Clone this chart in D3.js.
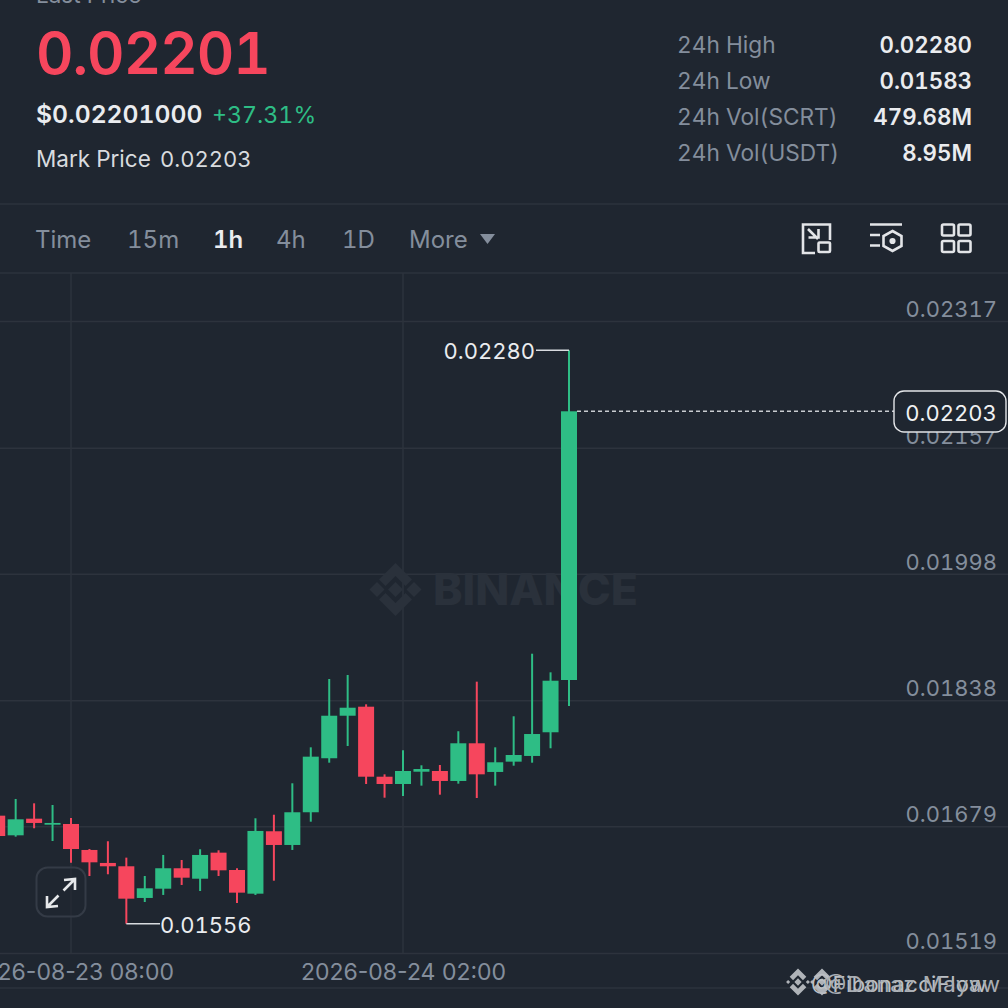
<!DOCTYPE html>
<html><head><meta charset="utf-8">
<script src="https://cdn.jsdelivr.net/npm/d3@7/dist/d3.min.js"></script>
<style>
html,body{margin:0;padding:0;background:#1f2630;overflow:hidden}
svg{display:block}
text{font-family:Inter,Lato,sans-serif;font-variant-numeric:tabular-nums}
</style></head><body>
<svg id="c" width="1008" height="1008"></svg>
<script>
const times=["2026-08-23T04:00Z","2026-08-23T05:00Z","2026-08-23T06:00Z","2026-08-23T07:00Z","2026-08-23T08:00Z","2026-08-23T09:00Z","2026-08-23T10:00Z","2026-08-23T11:00Z","2026-08-23T12:00Z","2026-08-23T13:00Z","2026-08-23T14:00Z","2026-08-23T15:00Z","2026-08-23T16:00Z","2026-08-23T17:00Z","2026-08-23T18:00Z","2026-08-23T19:00Z","2026-08-23T20:00Z","2026-08-23T21:00Z","2026-08-23T22:00Z","2026-08-23T23:00Z","2026-08-24T00:00Z","2026-08-24T01:00Z","2026-08-24T02:00Z","2026-08-24T03:00Z","2026-08-24T04:00Z","2026-08-24T05:00Z","2026-08-24T06:00Z","2026-08-24T07:00Z","2026-08-24T08:00Z","2026-08-24T09:00Z","2026-08-24T10:00Z","2026-08-24T11:00Z"];
const opens=[.016924,.016676,.016886,.01681,.016819,.016491,.016327,.016285,.015885,.016002,.01626,.016128,.016457,.016238,.015939,.016727,.016554,.016967,.017649,.018186,.0183,.017416,.017324,.017479,.017488,.017362,.017838,.017476,.017606,.017678,.017977,.018637];
const closes=[.016667,.016878,.016832,.016832,.016503,.016335,.016285,.015876,.016007,.01626,.016141,.016428,.016234,.015952,.016731,.016554,.016967,.017669,.018186,.018287,.017416,.017324,.017488,.017513,.017362,.017838,.017446,.017598,.01769,.017955,.018628,.02203];
const highs=[.016924,.017135,.01708,.017059,.016895,.016503,.016601,.016394,.016162,.016428,.016364,.0165,.016487,.01626,.016891,.016936,.017333,.017787,.01865,.0187,.01833,.017446,.01775,.01756,.017564,.01799,.018616,.017787,.018179,.018969,.018734,.0228];
const lows=[.016667,.016659,.016765,.016604,.01633,.016162,.016184,.01556,.015834,.015923,.016049,.015973,.016162,.015822,.015923,.016103,.016491,.016848,.017593,.017804,.017324,.017151,.017173,.017303,.017189,.017328,.017147,.017303,.017555,.017593,.017775,.018309];
const priceTicks=[.02317,.02157,.01998,.01838,.01679,.01519];
const timeTicks=["2026-08-23T08:00Z","2026-08-24T02:00Z"];
const tabs=["Time","15m","1h","4h","1D","More"];
const statLabels=["24h High","24h Low","24h Vol(SCRT)","24h Vol(USDT)"];
const statValues=["0.02280","0.01583","479.68M","8.95M"];
const lastPrice=.02201, markPrice=.02203, hiPrice=.0228, loPrice=.01556;

const GREEN="#2ebd85",RED="#f6465d",BG="#1f2630",GRID="#2d333d",MUTED="#848e9c",LIGHT="#eaecef";
const svg=d3.select("#c");
const x=d3.scaleUtc().domain([new Date("2026-08-23T08:00Z"),new Date("2026-08-24T02:00Z")]).range([71,403]);
const y=d3.scaleLinear().domain([.01519,.02317]).range([953,321]);
const fmt5=d3.format(".5f");
const T=(s,px,py,size,fill,o={})=>svg.append("text").attr("x",px).attr("y",py).attr("font-size",size).attr("fill",fill)
  .attr("font-weight",o.w||400).attr("text-anchor",o.a||"start").attr("letter-spacing",o.ls||0).text(s);

// header
T("Last Price",36,3,22.5,MUTED);
T(fmt5(lastPrice),36,74,58,RED,{w:600,ls:-1});
T("$0.02201000",36,123,24.7,LIGHT,{w:600});
T("+37.31%",212,123,23.2,GREEN);
T("Mark Price",36,167,22.5,"#d8dbdf");
T(fmt5(markPrice),160,167,22,"#d8dbdf");
statLabels.forEach((s,i)=>{
  T(s,677,53+i*36,22.7,MUTED);
  T(statValues[i],972,53+i*36,22.3,LIGHT,{w:600,a:"end"});
});
// separators
[204,273,988].forEach(v=>svg.append("line").attr("x1",0).attr("x2",1008).attr("y1",v).attr("y2",v).attr("stroke",GRID).attr("stroke-width",1.5));
// tabs
const tabX=[35,127,213,276,342,409];
tabs.forEach((s,i)=>T(s,tabX[i],248,24,i==2?LIGHT:MUTED,{w:i==2?600:400}));
svg.append("path").attr("d","M480 234H495L487.5 244Z").attr("fill",MUTED);

// icons
const ic=svg.append("g").attr("fill","none").attr("stroke","#e3e5e8").attr("stroke-width",2.6);
ic.append("path").attr("d","M815 253H803V224.500H830V240");
ic.append("rect").attr("x",818.5).attr("y",242.5).attr("width",11.5).attr("height",9.5).attr("rx",1);
ic.append("path").attr("d","M808 229L818 239M808.500 237.500H818.500V229");
ic.append("path").attr("d","M870 224.500H902M870 235H880M870 245.500H880M892.500 231L901.500 236V246L892.500 251L883.500 246V236Z");
ic.append("circle").attr("cx",892.5).attr("cy",241).attr("r",1.8).attr("fill","#e3e5e8");
[[942,224.5],[958.5,224.5],[942,241],[958.5,241]].forEach(p=>ic.append("rect").attr("x",p[0]).attr("y",p[1]).attr("width",12).attr("height",11).attr("rx",1.5));

// grid + axes
const gy=svg.append("g").attr("transform","translate(1008,0)")
  .call(d3.axisLeft(y).tickValues(priceTicks).tickFormat(fmt5).tickSize(1008).tickPadding(0));
gy.select(".domain").remove();
gy.selectAll("line").attr("stroke",GRID).attr("stroke-width",1.5);
gy.selectAll("text").attr("x",-11).attr("dy",0).attr("y",-4.5).attr("font-size",22).attr("fill",MUTED).attr("text-anchor","end").style("font-family","Inter");
const fmtT=d3.utcFormat("%Y-%m-%d %H:%M");
const gx=svg.append("g").attr("transform","translate(0,953)")
  .call(d3.axisBottom(x).tickValues(timeTicks.map(d=>new Date(d))).tickFormat(fmtT).tickSize(0).tickPadding(0));
gx.select(".domain").remove();
gx.selectAll("text").attr("y",27).attr("dy",0).attr("font-size",23).attr("fill",MUTED).style("font-family","Inter").style("font-variant-numeric","normal");
timeTicks.forEach(d=>svg.append("line").attr("x1",x(new Date(d))).attr("x2",x(new Date(d))).attr("y1",273).attr("y2",953).attr("stroke",GRID).attr("stroke-width",1.5));

// watermark
const WM="#2a313b";
const wm=svg.append("g").attr("fill",WM);
wm.append("path").attr("d","M395.500 563L412 579.500L405.500 586L395.500 576L385.500 586L379 579.500Z");
wm.append("path").attr("d","M395.500 616L412 599.500L405.500 593L395.500 603L385.500 593L379 599.500Z");
wm.append("path").attr("d","M395.500 582L403 589.500L395.500 597L388 589.500Z");
wm.append("path").attr("d","M377 582L384.500 589.500L377 597L369.500 589.500Z");
wm.append("path").attr("d","M414 582L421.500 589.500L414 597L406.500 589.500Z");
T("BINANCE",433,605,44.5,WM,{w:800});

// candles
const candles=times.map((t,i)=>({t:new Date(t),o:opens[i],c:closes[i],h:highs[i],l:lows[i]}));
const g=svg.selectAll(".k").data(candles).join("g").attr("class","k")
  .attr("fill",d=>d.c>=d.o?GREEN:RED).attr("stroke",d=>d.c>=d.o?GREEN:RED);
g.append("line").attr("x1",d=>x(d.t)).attr("x2",d=>x(d.t)).attr("y1",d=>y(d.h)).attr("y2",d=>y(d.l)).attr("stroke-width",2);
g.append("rect").attr("x",d=>x(d.t)-8).attr("width",16).attr("y",d=>y(Math.max(d.o,d.c))).attr("height",d=>Math.max(1.5,Math.abs(y(d.o)-y(d.c)))).attr("stroke","none");

// high/low annotations
const hiI=times.length-1, loI=times.indexOf("2026-08-23T11:00Z");
const xHi=x(new Date(times[hiI])), xLo=x(new Date(times[loI]));
svg.append("line").attr("x1",536).attr("x2",xHi).attr("y1",y(hiPrice)).attr("y2",y(hiPrice)).attr("stroke","#d8dbdf").attr("stroke-width",1.5);
T(fmt5(hiPrice),535,359,22,"#eaecef",{a:"end"});
svg.append("line").attr("x1",xLo).attr("x2",160).attr("y1",y(loPrice)).attr("y2",y(loPrice)).attr("stroke","#d8dbdf").attr("stroke-width",1.5);
T(fmt5(loPrice),160,933,22,"#eaecef");

// last price line + tag
svg.append("line").attr("x1",577).attr("x2",894).attr("y1",y(markPrice)).attr("y2",y(markPrice)).attr("stroke","#c9ccd0").attr("stroke-width",1.4).attr("stroke-dasharray","4 3");
svg.append("rect").attr("x",894).attr("y",391).attr("width",112).attr("height",41).attr("rx",10).attr("fill",BG).attr("stroke","#e3e5e8").attr("stroke-width",1.4);
T(fmt5(markPrice),951,421,22,"#f0f1f3",{a:"middle"});

// expand button
svg.append("rect").attr("x",36.5).attr("y",867.5).attr("width",49).attr("height",49).attr("rx",11).attr("fill",BG).attr("fill-opacity",.6).attr("stroke","#343b46").attr("stroke-width",2);
svg.append("path").attr("d","M64 880L75 879V890M75 879L63.500 890.500M47 896V907L58 906M47 907L58.500 895.500").attr("fill","none").attr("stroke","#e6e8ea").attr("stroke-width",2.6);

// footer watermark
const fw=svg.append("g").attr("opacity",.85);
const logo=(dx)=>{const l=fw.append("g").attr("transform",`translate(${dx},982) scale(.52)`).attr("fill","#c9ccd0");
 l.append("path").attr("d","M0 -26L16 -10L9.500 -3.500L0 -13L-9.500 -3.500L-16 -10Z");
 l.append("path").attr("d","M0 26L16 10L9.500 3.500L0 13L-9.500 3.500L-16 10Z");
 l.append("path").attr("d","M0 -7L7 0L0 7L-7 0Z");
 l.append("path").attr("d","M-19 -4L-15 0L-19 4L-23 0Z");
 l.append("path").attr("d","M19 -4L23 0L19 4L15 0Z");};
logo(798);logo(822);
fw.append("text").attr("x",811).attr("y",992).attr("font-size",22).attr("fill","#d8dbdf").attr("textLength",176).text("@FibonacciFlow");
fw.append("text").attr("x",825).attr("y",992).attr("font-size",22).attr("fill","#c2c6cb").attr("textLength",175).text("@Danaz Mayaw");
</script></body></html>
